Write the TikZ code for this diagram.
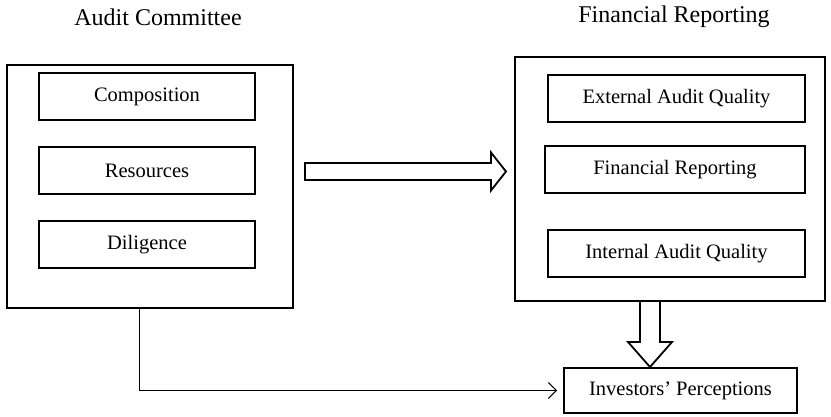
\documentclass[tikz,border=0pt]{standalone}
\usepackage{fontspec}
\setmainfont{Liberation Serif}
\usetikzlibrary{arrows.meta,calc}
\begin{document}
\begin{tikzpicture}[x=1pt,y=-1pt,
  title/.style={font=\fontsize{24}{28}\selectfont, inner sep=0},
  outerbox/.style={draw, line width=2pt, inner sep=0},
  innerbox/.style={draw, line width=2pt, inner sep=0, minimum width=216pt, minimum height=47pt, font=\fontsize{20.5}{24}\selectfont},
  inner2/.style={innerbox, minimum width=257pt},
  bigarrow/.style={draw, line width=1.8pt, fill=white, line join=miter},
  conn/.style={draw, line width=0.9pt, -{Straight Barb[length=8pt,width=16pt,line width=1pt]}}]
\useasboundingbox (0,0) rectangle (831,417);

\node[title] (tAC) at (158,17) {Audit Committee};
\node[title] (tFR) at (674,17) {Financial Reporting};

\node[outerbox, minimum width=286pt, minimum height=243pt] (L) at (150,186.5) {};
\node[outerbox, minimum width=310pt, minimum height=244pt] (R) at (670,179) {};

\node[innerbox] (comp) at (147,96.5) {Composition};
\node[innerbox] (res) at (147,171) {Resources};
\node[innerbox] (dil) at (147,245) {Diligence};

\node[inner2] (ext) at (676.5,98.5) {External Audit Quality};
\node[inner2, minimum width=260pt] (fin) at (675,170) {Financial Reporting};
\node[inner2] (int) at (676.5,253.5) {Internal Audit Quality};

\node[draw, line width=2pt, inner sep=0, minimum width=233pt, minimum height=45pt, font=\fontsize{20.5}{24}\selectfont] (inv) at (680.5,390.5) {Investors\symbol{39} Perceptions};

% big horizontal arrow
\coordinate (hs) at ($(L.east)+(11,-15)$);
\coordinate (ht) at ($(R.west)+(-8,-7.5)$);
\path[bigarrow] ($(hs)+(0,-8.5)$) -- ($(ht)+(-15,-8.5)$) -- ($(ht)+(-15,-19)$) -- (ht)
  -- ($(ht)+(-15,19)$) -- ($(ht)+(-15,8.5)$) -- ($(hs)+(0,8.5)$) -- cycle;

% big vertical arrow
\coordinate (vs) at ($(R.south)+(-20,0)$);
\coordinate (vt) at (inv.north -| vs);
\path[bigarrow] ($(vs)+(-10,0)$) -- ($(vt)+(-10,-25)$) -- ($(vt)+(-22,-25)$) -- (vt)
  -- ($(vt)+(22,-25)$) -- ($(vt)+(10,-25)$) -- ($(vs)+(10,0)$);

% connector
\coordinate (cs) at ($(L.south west)+(133,0)$);
\draw[conn] (cs) |- ([xshift=-6pt]inv.west);
\end{tikzpicture}
\end{document}
